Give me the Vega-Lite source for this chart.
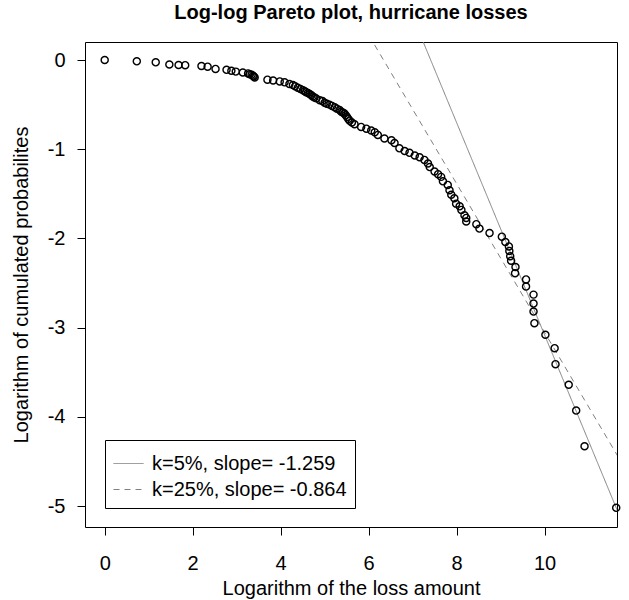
{
  "$schema": "https://vega.github.io/schema/vega-lite/v6.json",
  "width": 532,
  "height": 485,
  "autosize": {"type": "none"},
  "padding": {"left": 85, "top": 42, "right": 12, "bottom": 73},
  "background": "white",
  "title": {"text": "Log-log Pareto plot, hurricane losses", "font": "Liberation Sans", "fontSize": 20, "fontWeight": "bold", "color": "black", "anchor": "middle", "offset": 19},
  "config": {
    "view": {"stroke": "black", "strokeWidth": 1},
    "font": "Liberation Sans",
    "axis": {"domain": false, "grid": false, "tickColor": "black", "tickSize": 8, "tickWidth": 1, "labelFont": "Liberation Sans", "labelFontSize": 20, "labelColor": "black", "titleFont": "Liberation Sans", "titleFontSize": 20, "titleFontWeight": "normal", "titleColor": "black"}
  },
  "datasets": {
    "pts": [
      {"x": 0, "y": 0}, {"x": 0.73, "y": -0.015}, {"x": 1.16, "y": -0.026}, {"x": 1.47, "y": -0.05}, {"x": 1.68, "y": -0.056}, {"x": 1.83, "y": -0.058},
      {"x": 2.2, "y": -0.067}, {"x": 2.34, "y": -0.075}, {"x": 2.52, "y": -0.1}, {"x": 2.77, "y": -0.11}, {"x": 2.88, "y": -0.12}, {"x": 2.98, "y": -0.13},
      {"x": 3.14, "y": -0.14}, {"x": 3.26, "y": -0.15}, {"x": 3.3, "y": -0.16}, {"x": 3.34, "y": -0.165}, {"x": 3.37, "y": -0.175}, {"x": 3.39, "y": -0.185}, {"x": 3.41, "y": -0.195},
      {"x": 3.7, "y": -0.22}, {"x": 3.83, "y": -0.23}, {"x": 3.98, "y": -0.24}, {"x": 4.09, "y": -0.25}, {"x": 4.2, "y": -0.27}, {"x": 4.28, "y": -0.28},
      {"x": 4.33, "y": -0.295}, {"x": 4.39, "y": -0.31}, {"x": 4.45, "y": -0.325}, {"x": 4.51, "y": -0.34}, {"x": 4.55, "y": -0.35}, {"x": 4.58, "y": -0.36},
      {"x": 4.62, "y": -0.37}, {"x": 4.66, "y": -0.38}, {"x": 4.7, "y": -0.395}, {"x": 4.73, "y": -0.41}, {"x": 4.77, "y": -0.42}, {"x": 4.81, "y": -0.43},
      {"x": 4.89, "y": -0.45}, {"x": 4.95, "y": -0.46}, {"x": 5.0, "y": -0.48}, {"x": 5.05, "y": -0.49}, {"x": 5.11, "y": -0.5}, {"x": 5.17, "y": -0.515},
      {"x": 5.23, "y": -0.53}, {"x": 5.28, "y": -0.545}, {"x": 5.34, "y": -0.56}, {"x": 5.38, "y": -0.58}, {"x": 5.42, "y": -0.59}, {"x": 5.45, "y": -0.6},
      {"x": 5.48, "y": -0.62}, {"x": 5.51, "y": -0.64}, {"x": 5.54, "y": -0.66}, {"x": 5.57, "y": -0.68}, {"x": 5.62, "y": -0.7}, {"x": 5.68, "y": -0.72},
      {"x": 5.83, "y": -0.75}, {"x": 5.95, "y": -0.77}, {"x": 6.06, "y": -0.79}, {"x": 6.14, "y": -0.81}, {"x": 6.21, "y": -0.84}, {"x": 6.36, "y": -0.88},
      {"x": 6.52, "y": -0.9}, {"x": 6.59, "y": -0.93}, {"x": 6.7, "y": -0.99}, {"x": 6.82, "y": -1.02}, {"x": 6.93, "y": -1.04}, {"x": 7.05, "y": -1.07},
      {"x": 7.16, "y": -1.09}, {"x": 7.27, "y": -1.12}, {"x": 7.35, "y": -1.16}, {"x": 7.39, "y": -1.2}, {"x": 7.5, "y": -1.25}, {"x": 7.58, "y": -1.28},
      {"x": 7.65, "y": -1.31}, {"x": 7.69, "y": -1.36}, {"x": 7.8, "y": -1.4}, {"x": 7.84, "y": -1.46}, {"x": 7.88, "y": -1.51}, {"x": 7.95, "y": -1.55},
      {"x": 7.99, "y": -1.61}, {"x": 8.07, "y": -1.64}, {"x": 8.11, "y": -1.68}, {"x": 8.18, "y": -1.74}, {"x": 8.22, "y": -1.77}, {"x": 8.22, "y": -1.81},
      {"x": 8.45, "y": -1.84}, {"x": 8.52, "y": -1.89}, {"x": 8.75, "y": -1.94}, {"x": 9.03, "y": -1.98}, {"x": 9.11, "y": -2.04}, {"x": 9.19, "y": -2.09},
      {"x": 9.2, "y": -2.14}, {"x": 9.22, "y": -2.2}, {"x": 9.24, "y": -2.25}, {"x": 9.34, "y": -2.32}, {"x": 9.33, "y": -2.39}, {"x": 9.58, "y": -2.46},
      {"x": 9.58, "y": -2.54}, {"x": 9.75, "y": -2.63}, {"x": 9.75, "y": -2.73}, {"x": 9.75, "y": -2.82}, {"x": 9.77, "y": -2.95}, {"x": 10.02, "y": -3.08},
      {"x": 10.23, "y": -3.23}, {"x": 10.25, "y": -3.41}, {"x": 10.55, "y": -3.64}, {"x": 10.72, "y": -3.93}, {"x": 10.91, "y": -4.33}, {"x": 11.63, "y": -5.02}
    ],
    "fits": [
      {"fit": "k=5%, slope= -1.259", "x": 7.0, "y": 0.49},
      {"fit": "k=5%, slope= -1.259", "x": 12.0, "y": -5.46},
      {"fit": "k=25%, slope= -0.864", "x": 5.5, "y": 0.70},
      {"fit": "k=25%, slope= -0.864", "x": 12.0, "y": -4.72}
    ]
  },
  "layer": [
    {
      "data": {"name": "fits"},
      "mark": {"type": "line", "clip": true, "color": "#808080", "strokeWidth": 1},
      "encoding": {
        "x": {"field": "x", "type": "quantitative", "scale": {"domain": [-0.448, 11.648], "nice": false, "zero": false},
              "axis": {"values": [0, 2, 4, 6, 8, 10], "title": "Logarithm of the loss amount", "labelPadding": 18, "titlePadding": 5}},
        "y": {"field": "y", "type": "quantitative", "scale": {"domain": [-5.235, 0.202], "nice": false, "zero": false},
              "axis": {"values": [0, -1, -2, -3, -4, -5], "labelExpr": "datum.value == 0 ? '0' : '-' + abs(datum.value)", "title": "Logarithm of cumulated probabilites", "labelPadding": 12, "titlePadding": 16}},
        "strokeDash": {"field": "fit", "type": "nominal",
          "scale": {"domain": ["k=5%, slope= -1.259", "k=25%, slope= -0.864"], "range": [[1, 0], [6, 5]]},
          "legend": {"orient": "none", "legendX": 20, "legendY": 398, "title": null, "strokeColor": "black", "padding": 8,
                     "labelFont": "Liberation Sans", "labelFontSize": 20, "labelColor": "black", "labelLimit": 400, "symbolType": "stroke",
                     "symbolStrokeColor": "#808080", "symbolStrokeWidth": 1, "symbolSize": 900, "rowPadding": 0, "labelOffset": 8}}
      }
    },
    {
      "data": {"name": "pts"},
      "mark": {"type": "point", "shape": "circle", "filled": false, "stroke": "black", "strokeWidth": 1.4, "size": 50, "opacity": 1},
      "encoding": {
        "x": {"field": "x", "type": "quantitative"},
        "y": {"field": "y", "type": "quantitative"}
      }
    }
  ]
}
